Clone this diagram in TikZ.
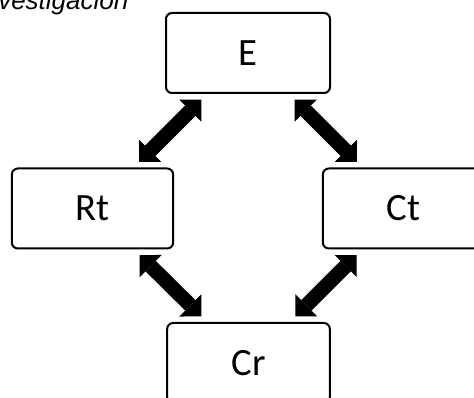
\documentclass[tikz,border=0pt]{standalone}
\usepackage{fontspec}
\setmainfont{Carlito}
\newfontfamily\captionfont{Liberation Sans}
\usetikzlibrary{arrows.meta}

\begin{document}
\begin{tikzpicture}[x=0.75pt,y=0.75pt,yscale=-1,xscale=1,
  boxnode/.style={draw,line width=1.5pt,rounded corners=4.5pt,inner sep=0pt,
    minimum width=121pt,minimum height=60pt,font=\fontsize{29}{34}\selectfont},
  bigarrow/.style={line width=11pt,shorten <=6pt,shorten >=6pt,
    {Triangle[width=23.5pt,length=11.7pt,line width=0pt]}-{Triangle[width=23.5pt,length=11.7pt,line width=0pt]}}]
\useasboundingbox (0,0) rectangle (474,398);
% Text Node
\draw (-2,10) node [anchor=base west][inner sep=0pt] {\captionfont\itshape\fontsize{19.5}{22}\selectfont vestigación};
% Boxes
\node [boxnode,minimum width=123pt] (E) at (248,53) {E};
\node [boxnode] (Rt) at (92.5,208.5) {Rt};
\node [boxnode] (Ct) at (403.5,208.5) {Ct};
\node [boxnode,minimum width=122pt] (Cr) at (248.5,363) {Cr};
% Arrows
\draw [bigarrow] (Rt) -- (E);
\draw [bigarrow] (E) -- (Ct);
\draw [bigarrow] (Rt) -- (Cr);
\draw [bigarrow] (Cr) -- (Ct);
\end{tikzpicture}
\end{document}
